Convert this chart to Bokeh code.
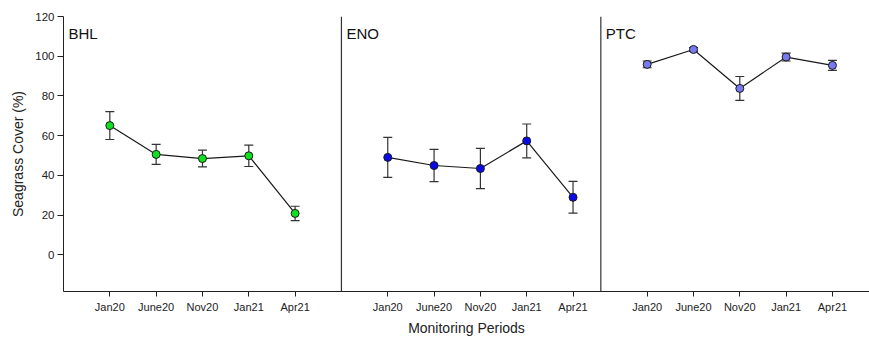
from bokeh.plotting import figure
from bokeh.models import (ColumnDataSource, Range1d, FixedTicker, Whisker, TeeHead,
                          Span, Label)
from bokeh.embed import file_html
from bokeh.resources import INLINE

# ---- data ----
periods = ["Jan20", "June20", "Nov20", "Jan21", "Apr21"]
sites = ["BHL", "ENO", "PTC"]
bhl_mean = [65.1, 50.6, 48.5, 49.9, 20.9]
bhl_err = [7.0, 5.0, 4.2, 5.4, 3.6]
eno_mean = [49.1, 45.0, 43.5, 57.4, 29.0]
eno_err = [10.1, 8.1, 10.1, 8.5, 8.0]
ptc_mean = [95.9, 103.4, 83.8, 99.6, 95.4]
ptc_err = [1.7, 1.0, 6.0, 2.0, 2.5]
y_ticks = [0, 20, 40, 60, 80, 100, 120]

# ---- layout (panel offsets in x units) ----
offsets = [0, 60, 116]
x_end = 174
colors = ["#10e020", "#0a0ae6", "#7878f0"]
means = [bhl_mean, eno_mean, ptc_mean]
errs = [bhl_err, eno_err, ptc_err]

FONT = "Liberation Sans"

p = figure(width=869, height=338, output_backend="svg", toolbar_location=None,
           x_range=Range1d(0, x_end), y_range=Range1d(-18.4, 120),
           min_border_left=63, min_border_right=0, min_border_top=16,
           min_border_bottom=44)
p.outline_line_color = None
p.grid.visible = False
p.background_fill_color = "white"
p.border_fill_color = "white"

tick_pos = []
tick_lab = {}
for k, site in enumerate(sites):
    xs = [offsets[k] + 10 * (i + 1) for i in range(len(periods))]
    for xv, lab in zip(xs, periods):
        tick_pos.append(xv)
        tick_lab[xv] = lab
    m = means[k]
    e = errs[k]
    src = ColumnDataSource(dict(x=xs, y=m,
                                lo=[a - b for a, b in zip(m, e)],
                                hi=[a + b for a, b in zip(m, e)]))
    w = Whisker(source=src, base="x", upper="hi", lower="lo",
                line_color="#333333", line_width=1.2,
                upper_head=TeeHead(size=9, line_color="#333333", line_width=1.2),
                lower_head=TeeHead(size=9, line_color="#333333", line_width=1.2))
    p.add_layout(w)
    p.line("x", "y", source=src, line_color="#1a1a1a", line_width=1.2)
    p.scatter("x", "y", source=src, size=8, fill_color=colors[k],
              line_color="#1a1a1a", line_width=1)
    p.add_layout(Label(x=offsets[k], y=111.6, x_offset=5, text=site,
                       text_font=FONT, text_font_size="15px",
                       text_color="#111111", text_baseline="alphabetic"))
    if k > 0:
        p.add_layout(Span(location=offsets[k], dimension="height",
                          line_color="#333333", line_width=1.2))

# x axis
xa = p.xaxis[0]
xa.ticker = FixedTicker(ticks=tick_pos)
xa.major_label_overrides = tick_lab
xa.minor_tick_line_color = None
xa.major_tick_in = 0
xa.major_tick_out = 5
xa.axis_line_color = "#222222"
xa.major_tick_line_color = "#222222"
xa.major_label_text_font = FONT
xa.major_label_text_font_size = "11px"
xa.major_label_text_color = "#222222"
xa.major_label_standoff = 4
xa.axis_label = "Monitoring Periods"
xa.axis_label_text_font = FONT
xa.axis_label_text_font_size = "14px"
xa.axis_label_text_font_style = "normal"
xa.axis_label_text_color = "#222222"
xa.axis_label_standoff = 4

# y axis
ya = p.yaxis[0]
ya.ticker = FixedTicker(ticks=y_ticks)
ya.minor_tick_line_color = None
ya.major_tick_in = 0
ya.major_tick_out = 6
ya.axis_line_color = "#222222"
ya.major_tick_line_color = "#222222"
ya.major_label_text_font = FONT
ya.major_label_text_font_size = "11.5px"
ya.major_label_text_color = "#222222"
ya.major_label_standoff = 3
ya.axis_label = "Seagrass Cover (%)"
ya.axis_label_text_font = FONT
ya.axis_label_text_font_size = "14px"
ya.axis_label_text_font_style = "normal"
ya.axis_label_text_color = "#222222"
ya.axis_label_standoff = 6

open("out.html", "w").write(file_html(p, INLINE))
